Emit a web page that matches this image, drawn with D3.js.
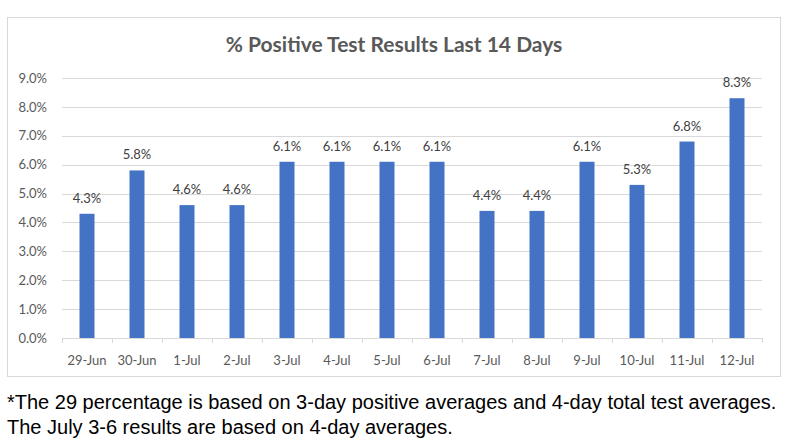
<!DOCTYPE html>
<html><head><meta charset="utf-8">
<script src="https://cdn.jsdelivr.net/npm/d3@7"></script>
<style>body{margin:0;background:#fff}svg{display:block}</style>
</head><body>
<svg id="c" width="790" height="448"></svg>
<script>
const categories = ["29-Jun","30-Jun","1-Jul","2-Jul","3-Jul","4-Jul","5-Jul","6-Jul","7-Jul","8-Jul","9-Jul","10-Jul","11-Jul","12-Jul"];
const values = [4.3,5.8,4.6,4.6,6.1,6.1,6.1,6.1,4.4,4.4,6.1,5.3,6.8,8.3];
const yTicks = [0,1,2,3,4,5,6,7,8,9];
const title = "% Positive Test Results Last 14 Days";
const footnotes = ["*The 29 percentage is based on 3-day positive averages and 4-day total test averages.",
                   "The July 3-6 results are based on 4-day averages."];

const svg = d3.select("#c");
const font = "Lato, 'Open Sans', sans-serif";
const gray = "#595959";
const m = {left:62, right:762, top:78, bottom:338};

svg.append("rect").attr("x",7.5).attr("y",17.5).attr("width",773).attr("height",359)
  .attr("fill","#fff").attr("stroke","#d9d9d9");

svg.append("text").attr("x",394).attr("y",52).attr("text-anchor","middle")
  .attr("font-family",font).attr("font-weight","bold").attr("font-size",21).attr("fill",gray).text(title);

const x = d3.scaleBand().domain(categories).range([m.left,m.right]).paddingInner(0.7).paddingOuter(0.35);
const y = d3.scaleLinear().domain([0,9]).range([m.bottom,m.top]);

// gridlines
svg.append("g").selectAll("line").data(yTicks.filter(d=>d>0)).join("line")
  .attr("x1",m.left).attr("x2",m.right).attr("y1",d=>Math.round(y(d))+0.5).attr("y2",d=>Math.round(y(d))+0.5)
  .attr("stroke","#d9d9d9");

// y axis labels
const yAxis = svg.append("g").attr("transform",`translate(${m.left},0)`)
  .call(d3.axisLeft(y).tickValues(yTicks).tickFormat(d=>d.toFixed(1)+"%").tickSize(0).tickPadding(15));
yAxis.select(".domain").remove();
yAxis.selectAll("text").attr("font-family",font).attr("font-size",13).attr("fill",gray);

// bars
svg.append("g").selectAll("rect").data(values).join("rect")
  .attr("x",(d,i)=>x(categories[i])).attr("width",x.bandwidth())
  .attr("y",d=>y(d)).attr("height",d=>y(0)-y(d)).attr("fill","#4472c4");

// data labels
svg.append("g").selectAll("text").data(values).join("text")
  .attr("x",(d,i)=>x(categories[i])+x.bandwidth()/2).attr("y",d=>y(d)-11)
  .attr("text-anchor","middle").attr("font-family",font).attr("font-size",13).attr("fill","#404040")
  .text(d=>d.toFixed(1)+"%");

// x axis
const xb = d3.scaleBand().domain(categories).range([m.left,m.right]);
const xAxis = svg.append("g").attr("transform",`translate(0,${m.bottom+0.5})`)
  .call(d3.axisBottom(xb).tickSize(0).tickPadding(17));
xAxis.select(".domain").attr("stroke","#d9d9d9").attr("d",`M${m.left},0H${m.right}`);
xAxis.selectAll("text").attr("font-family",font).attr("font-size",13).attr("fill",gray);
// category separator ticks
const bounds = categories.map(c=>xb(c)).concat([m.right]);
svg.append("g").selectAll("line").data(bounds).join("line")
  .attr("x1",d=>Math.round(d)+0.5).attr("x2",d=>Math.round(d)+0.5)
  .attr("y1",m.bottom).attr("y2",m.bottom+5).attr("stroke","#d9d9d9");

// footnotes
svg.append("g").selectAll("text").data(footnotes).join("text")
  .attr("x",7).attr("y",(d,i)=>409+i*25)
  .attr("font-family","'Liberation Sans', Arial, sans-serif").attr("font-size",20).attr("fill","#000")
  .text(d=>d);
</script>
</body></html>
